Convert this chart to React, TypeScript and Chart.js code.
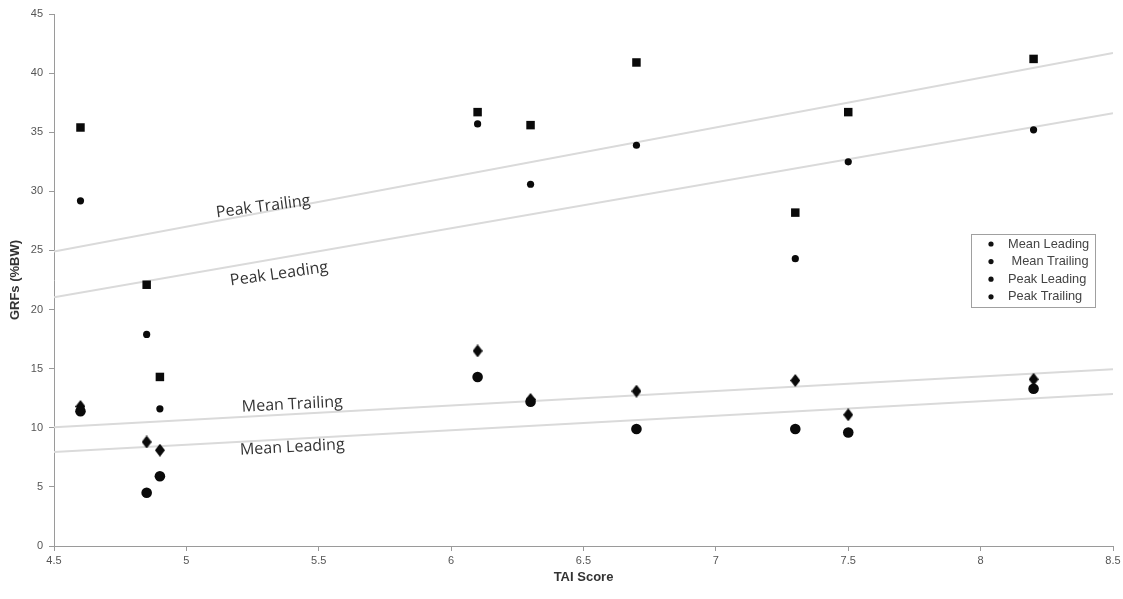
import React, { useEffect, useRef } from "react";
import { Chart, registerables } from "chart.js";

Chart.register(...registerables);

// ---- data ----
const taiScores = [4.6, 4.85, 4.9, 6.1, 6.3, 6.7, 7.3, 7.5, 8.2];
const meanLeading = [11.4, 4.5, 5.9, 14.3, 12.2, 9.9, 9.9, 9.6, 13.3];
const meanTrailing = [11.8, 8.8, 8.1, 16.5, 12.4, 13.1, 14.0, 11.1, 14.1];
const peakLeading = [29.2, 17.9, 11.6, 35.7, 30.6, 33.9, 24.3, 32.5, 35.2];
const peakTrailing = [35.4, 22.1, 14.3, 36.7, 35.6, 40.9, 28.2, 36.7, 41.2];

const fitX = [4.5, 8.5];
const meanLeadingFit = [7.95, 12.85];
const meanTrailingFit = [10.05, 14.95];
const peakLeadingFit = [21.05, 36.6];
const peakTrailingFit = [24.9, 41.7];

const seriesNames = ["Mean Leading", "Mean Trailing", "Peak Leading", "Peak Trailing"];
const legendTexts = ["Mean Leading", " Mean Trailing", "Peak Leading", "Peak Trailing"];

const xTicksMin = 4.5;
const xTicksMax = 8.5;
const xStep = 0.5;
const yTicksMin = 0;
const yTicksMax = 45;
const yStep = 5;

const fitLabels = ["Peak Trailing", "Peak Leading", "Mean Trailing", "Mean Leading"];
const fitLabelX = [5.29, 5.35, 5.4, 5.4];
const fitLabelY = [28.7, 23.0, 11.96, 8.34];
const fitLabelAngle = [-7.5, -8, -3, -3];

const pts = (ys: number[]) => taiScores.map((x, i) => ({ x, y: ys[i] }));
const fitPts = (ys: number[]) => fitX.map((x, i) => ({ x, y: ys[i] }));

function makeDiamond(): HTMLCanvasElement {
  const c = document.createElement("canvas");
  c.width = 10;
  c.height = 13;
  const g = c.getContext("2d")!;
  g.fillStyle = "#0a0a0a";
  g.beginPath();
  g.moveTo(5, 0);
  g.lineTo(10, 6.5);
  g.lineTo(5, 13);
  g.lineTo(0, 6.5);
  g.closePath();
  g.fill();
  return c;
}

const annotationPlugin = {
  id: "fitAnnotations",
  afterDatasetsDraw(chart: any) {
    const { ctx, scales } = chart;
    ctx.save();
    ctx.fillStyle = "#333";
    ctx.font = '16px "Open Sans", "Liberation Sans", sans-serif';
    ctx.textAlign = "center";
    ctx.textBaseline = "middle";
    fitLabels.forEach((t, i) => {
      const px = scales.x.getPixelForValue(fitLabelX[i]);
      const py = scales.y.getPixelForValue(fitLabelY[i]);
      ctx.save();
      ctx.translate(px, py);
      ctx.rotate((fitLabelAngle[i] * Math.PI) / 180);
      ctx.fillText(t, 0, 0);
      ctx.restore();
    });
    ctx.restore();
  },
};

const legendPlugin = {
  id: "insideLegend",
  afterDraw(chart: any) {
    const { ctx } = chart;
    const boxX = 971;
    const boxY = 234;
    const boxW = 124;
    const boxH = 73;
    ctx.save();
    ctx.fillStyle = "#ffffff";
    ctx.fillRect(boxX, boxY, boxW, boxH);
    ctx.strokeStyle = "#a0a0a0";
    ctx.lineWidth = 1;
    ctx.strokeRect(boxX + 0.5, boxY + 0.5, boxW, boxH);
    ctx.font = '12.8px "Liberation Sans", Arial, sans-serif';
    ctx.textBaseline = "middle";
    ctx.textAlign = "left";
    legendTexts.forEach((t, i) => {
      const cy = boxY + 10 + i * 17.6;
      ctx.fillStyle = "#111";
      ctx.beginPath();
      ctx.arc(boxX + 20, cy, 2.6, 0, Math.PI * 2);
      ctx.fill();
      ctx.fillStyle = "#444";
      ctx.fillText(t, boxX + 37, cy);
    });
    ctx.restore();
  },
};

export default function App() {
  const ref = useRef<HTMLCanvasElement | null>(null);

  useEffect(() => {
    if (!ref.current) return;
    const tickFont = { family: '"Liberation Sans", Arial, sans-serif', size: 11 };
    const titleFont = { family: '"Liberation Sans", Arial, sans-serif', size: 13, weight: "bold" as const };
    const fitStyle = {
      type: "line" as const,
      showLine: true,
      borderColor: "#dadada",
      borderWidth: 2,
      pointRadius: 0,
      fill: false,
      order: 10,
    };
    const diamond = makeDiamond();
    const chart = new Chart(ref.current, {
      type: "scatter",
      data: {
        datasets: [
          {
            label: seriesNames[0],
            data: pts(meanLeading),
            pointStyle: "circle",
            pointRadius: 5.3,
            backgroundColor: "#0a0a0a",
            borderColor: "#0a0a0a",
            borderWidth: 0,
            order: 1,
          },
          {
            label: seriesNames[1],
            data: pts(meanTrailing),
            pointStyle: diamond,
            pointRadius: 6,
            backgroundColor: "#0a0a0a",
            borderColor: "#0a0a0a",
            borderWidth: 0,
            order: 1,
          },
          {
            label: seriesNames[2],
            data: pts(peakLeading),
            pointStyle: "circle",
            pointRadius: 3.6,
            backgroundColor: "#0a0a0a",
            borderColor: "#0a0a0a",
            borderWidth: 0,
            order: 1,
          },
          {
            label: seriesNames[3],
            data: pts(peakTrailing),
            pointStyle: "rect",
            pointRadius: 6,
            backgroundColor: "#0a0a0a",
            borderColor: "#0a0a0a",
            borderWidth: 0,
            order: 1,
          },
          { ...fitStyle, label: "fit " + seriesNames[0], data: fitPts(meanLeadingFit) },
          { ...fitStyle, label: "fit " + seriesNames[1], data: fitPts(meanTrailingFit) },
          { ...fitStyle, label: "fit " + seriesNames[2], data: fitPts(peakLeadingFit) },
          { ...fitStyle, label: "fit " + seriesNames[3], data: fitPts(peakTrailingFit) },
        ] as any,
      },
      options: {
        animation: false,
        responsive: false,
        maintainAspectRatio: false,
        layout: { padding: { top: 14, right: 10, left: 8, bottom: 8 } },
        plugins: {
          legend: { display: false },
          tooltip: { enabled: false },
        },
        scales: {
          x: {
            type: "linear",
            min: xTicksMin,
            max: xTicksMax,
            ticks: {
              stepSize: xStep,
              font: tickFont,
              color: "#555",
              padding: 3,
              maxRotation: 0,
              callback: (v: any) => String(Number(v)),
            },
            grid: { drawOnChartArea: false, drawTicks: true, tickLength: 5, color: "#9a9a9a" },
            border: { display: true, color: "#9a9a9a", width: 1 },
            title: {
              display: true,
              text: "TAI Score",
              font: titleFont,
              color: "#333",
              padding: { top: 0, bottom: 6 },
            },
            afterFit(scale: any) {
              scale.height = 45;
              scale.paddingLeft = 0;
              scale.paddingRight = 0;
            },
          },
          y: {
            type: "linear",
            min: yTicksMin,
            max: yTicksMax,
            ticks: { stepSize: yStep, font: tickFont, color: "#555", padding: 6 },
            grid: { drawOnChartArea: false, drawTicks: true, tickLength: 5, color: "#9a9a9a" },
            border: { display: true, color: "#9a9a9a", width: 1 },
            title: {
              display: true,
              text: "GRFs (%BW)",
              font: titleFont,
              color: "#333",
              padding: 0,
            },
            afterFit(scale: any) {
              scale.width = 46;
              scale.paddingTop = 0;
              scale.paddingBottom = 0;
            },
          },
        },
      },
      plugins: [annotationPlugin, legendPlugin],
    });
    return () => chart.destroy();
  }, []);

  return (
    <div style={{ position: "fixed", left: 0, top: 0, width: 1123, height: 599 }}>
      <canvas ref={ref} width={1123} height={599} style={{ display: "block" }} />
    </div>
  );
}
